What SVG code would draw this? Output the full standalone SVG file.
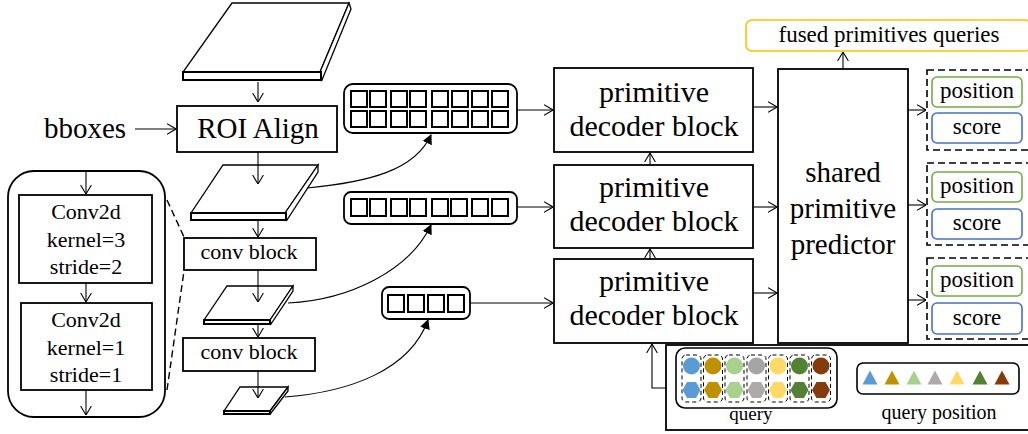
<svg xmlns="http://www.w3.org/2000/svg" width="1028" height="434" viewBox="0 0 1028 434" font-family="'Liberation Serif', 'Times New Roman', serif">
<defs>
<marker id="open" viewBox="0 0 10 12" markerWidth="9" markerHeight="12" refX="10" refY="6" orient="auto" markerUnits="userSpaceOnUse">
<path d="M0,0 L10,6 L0,12" fill="none" stroke="#000" stroke-width="1.2"/>
</marker>
<marker id="fill" viewBox="0 0 10 10" markerWidth="10" markerHeight="11" refX="9" refY="5" orient="auto" markerUnits="userSpaceOnUse">
<path d="M0,0 L10,5 L0,10 Z" fill="#000"/>
</marker>
<polygon id="hex" points="-9,0 -4.5,-8 4.5,-8 9,0 4.5,8 -4.5,8"/>
<polygon id="tri" points="-7.5,7 0,-7 7.5,7"/>
</defs>
<style>
text{font-family:'Liberation Serif','Times New Roman',serif;fill:#000;text-anchor:middle}
.box{fill:#fff;stroke:#000;stroke-width:1.8}
.slab{fill:#fff;stroke:#000;stroke-width:1.3;stroke-linejoin:miter}
.front{fill:#fff;stroke:#000;stroke-width:2}
.cell{fill:#fff;stroke:#000;stroke-width:2}
.tok{fill:#fff;stroke:#000;stroke-width:1.8}
.arr{fill:none;stroke:#000;stroke-width:1.1;marker-end:url(#open)}
.curve{fill:none;stroke:#000;stroke-width:1.1;marker-end:url(#fill)}
.dash{fill:none;stroke:#000;stroke-width:1.6;stroke-dasharray:7,4}
.pos{fill:#fff;stroke:#70AD47;stroke-width:1.6}
.score{fill:#fff;stroke:#4472C4;stroke-width:1.6}
.col{fill:none;stroke:#000;stroke-width:1;stroke-dasharray:4,3}
</style>

<!-- feature slabs -->
<g id="slab1">
<polygon class="slab" points="232,3 349,3 320,72 183,72"/>
<polygon class="slab" points="320,72 349,3 351,9 322,80"/>
<rect class="front" x="183" y="72" width="138" height="8"/>
</g>
<g id="slab2">
<polygon class="slab" points="223,165 318,165 285,213 191,213"/>
<polygon class="slab" points="285,213 318,165 318,172 287,220"/>
<rect class="front" x="191" y="213" width="95" height="7"/>
</g>
<g id="slab3">
<polygon class="slab" points="227,286 293,286 270,320 204,320"/>
<polygon class="slab" points="270,320 293,286 293,291 271,324"/>
<rect class="front" x="204" y="320" width="66" height="4"/>
</g>
<g id="slab4">
<polygon class="slab" points="240,387 288,387 270,411 224,411"/>
<polygon class="slab" points="270,411 288,387 288,391 271,413"/>
<rect class="front" x="224" y="411" width="46" height="3"/>
</g>

<g id="bboxes"><text x="85" y="138" font-size="29">bboxes</text></g>
<g id="roi">
<rect class="box" x="177" y="106" width="160" height="46"/>
<text x="258" y="138" font-size="29">ROI Align</text>
</g>
<g id="conv1">
<rect class="box" x="184" y="238" width="132" height="32"/>
<text x="249" y="259" font-size="22">conv block</text>
</g>
<g id="conv2">
<rect class="box" x="183" y="338" width="132" height="33"/>
<text x="249" y="359" font-size="22">conv block</text>
</g>

<!-- conv block detail panel -->
<g id="panel">
<rect x="8" y="171" width="157" height="246" rx="26" fill="none" stroke="#000" stroke-width="1.8"/>
<rect class="box" x="19" y="195" width="133" height="88"/>
<text x="86" y="219" font-size="22">Conv2d</text>
<text x="86" y="247" font-size="22">kernel=3</text>
<text x="86" y="274" font-size="22">stride=2</text>
<rect class="box" x="21" y="303" width="131" height="87"/>
<text x="86" y="327" font-size="22">Conv2d</text>
<text x="86" y="355" font-size="22">kernel=1</text>
<text x="86" y="382" font-size="22">stride=1</text>
</g>

<!-- token groups -->
<g id="tokens1">
<rect class="tok" x="344" y="84" width="173" height="49" rx="9"/>
<g class="cell">
<rect x="351" y="91" width="16" height="16"/><rect x="370" y="91" width="16" height="16"/><rect x="391" y="91" width="16" height="16"/><rect x="410" y="91" width="16" height="16"/>
<rect x="432" y="91" width="16" height="16"/><rect x="452" y="91" width="16" height="16"/><rect x="472" y="91" width="16" height="16"/><rect x="492" y="91" width="16" height="16"/>
<rect x="351" y="111" width="16" height="16"/><rect x="370" y="111" width="16" height="16"/><rect x="391" y="111" width="16" height="16"/><rect x="410" y="111" width="16" height="16"/>
<rect x="432" y="111" width="16" height="16"/><rect x="452" y="111" width="16" height="16"/><rect x="472" y="111" width="16" height="16"/><rect x="492" y="111" width="16" height="16"/>
</g>
</g>
<g id="tokens2">
<rect class="tok" x="344" y="192" width="173" height="32" rx="7"/>
<g class="cell">
<rect x="351" y="199" width="16" height="17"/><rect x="370" y="199" width="16" height="17"/><rect x="391" y="199" width="16" height="17"/><rect x="410" y="199" width="16" height="17"/>
<rect x="432" y="199" width="16" height="17"/><rect x="451" y="199" width="16" height="17"/><rect x="472" y="199" width="16" height="17"/><rect x="492" y="199" width="16" height="17"/>
</g>
</g>
<g id="tokens3">
<rect class="tok" x="382" y="287" width="88" height="32" rx="7"/>
<g class="cell">
<rect x="388" y="295" width="16" height="17"/><rect x="408" y="295" width="16" height="17"/><rect x="428" y="295" width="16" height="17"/><rect x="448" y="295" width="16" height="17"/>
</g>
</g>

<!-- decoder blocks -->
<g id="dec1">
<rect class="box" x="554" y="68" width="199" height="84"/>
<text x="654" y="102" font-size="30">primitive</text>
<text x="654" y="136" font-size="30">decoder block</text>
</g>
<g id="dec2">
<rect class="box" x="554" y="165" width="199" height="83"/>
<text x="654" y="197" font-size="30">primitive</text>
<text x="654" y="231" font-size="30">decoder block</text>
</g>
<g id="dec3">
<rect class="box" x="554" y="259" width="199" height="84"/>
<text x="654" y="291" font-size="30">primitive</text>
<text x="654" y="325" font-size="30">decoder block</text>
</g>

<g id="predictor">
<rect class="box" x="778" y="69" width="130" height="274"/>
<text x="843" y="182" font-size="29">shared</text>
<text x="843" y="218" font-size="29">primitive</text>
<text x="843" y="254" font-size="29">predictor</text>
</g>

<g id="fused">
<rect x="746" y="20" width="285" height="31" rx="6" fill="#fff" stroke="#FFC000" stroke-width="1.6"/>
<text x="889" y="42" font-size="23">fused primitives queries</text>
</g>

<!-- outputs -->
<g id="out1">
<rect class="dash" x="927" y="70" width="104" height="80"/>
<rect class="pos" x="932" y="77" width="90" height="30" rx="5"/>
<text x="977" y="98" font-size="23">position</text>
<rect class="score" x="932" y="113" width="90" height="30" rx="5"/>
<text x="977" y="134" font-size="23">score</text>
</g>
<g id="out2">
<rect class="dash" x="927" y="163" width="104" height="82"/>
<rect class="pos" x="932" y="172" width="90" height="30" rx="5"/>
<text x="977" y="193" font-size="23">position</text>
<rect class="score" x="932" y="209" width="90" height="30" rx="5"/>
<text x="977" y="230" font-size="23">score</text>
</g>
<g id="out3">
<rect class="dash" x="927" y="258" width="104" height="81"/>
<rect class="pos" x="932" y="266" width="90" height="30" rx="5"/>
<text x="977" y="287" font-size="23">position</text>
<rect class="score" x="932" y="303" width="90" height="31" rx="5"/>
<text x="977" y="325" font-size="23">score</text>
</g>

<!-- legend -->
<g id="legend">
<rect x="666" y="345" width="370" height="85" fill="#fff" stroke="#000" stroke-width="1.8"/>
<rect x="676" y="348" width="161" height="60" rx="9" fill="none" stroke="#000" stroke-width="1.6"/>
<g class="col">
<rect x="682" y="355" width="19" height="47" rx="4"/><rect x="703.5" y="355" width="19" height="47" rx="4"/><rect x="725" y="355" width="19" height="47" rx="4"/><rect x="747" y="355" width="19" height="47" rx="4"/>
<rect x="768.5" y="355" width="19" height="47" rx="4"/><rect x="790" y="355" width="19" height="47" rx="4"/><rect x="811.5" y="355" width="19" height="47" rx="4"/>
</g>
<circle cx="691.5" cy="366" r="8.5" fill="#5B9BD5"/><circle cx="713" cy="366" r="8.5" fill="#BF9000"/><circle cx="734.5" cy="366" r="8.5" fill="#A9D18E"/><circle cx="756.5" cy="366" r="8.5" fill="#A5A5A5"/>
<circle cx="778" cy="366" r="8.5" fill="#FFD966"/><circle cx="799.5" cy="366" r="8.5" fill="#548235"/><circle cx="821" cy="366" r="8.5" fill="#843C0C"/>
<use href="#hex" x="691.5" y="390" fill="#5B9BD5"/><use href="#hex" x="713" y="390" fill="#BF9000"/><use href="#hex" x="734.5" y="390" fill="#A9D18E"/><use href="#hex" x="756.5" y="390" fill="#AEAAAA"/>
<use href="#hex" x="778" y="390" fill="#FFD966"/><use href="#hex" x="799.5" y="390" fill="#548235"/><use href="#hex" x="821" y="390" fill="#843C0C"/>
<text x="751" y="420" font-size="19">query</text>
<rect x="857" y="363" width="162" height="31" rx="6" fill="none" stroke="#000" stroke-width="1.6"/>
<use href="#tri" x="870" y="377.5" fill="#5B9BD5"/><use href="#tri" x="892" y="377.5" fill="#BF9000"/><use href="#tri" x="914" y="377.5" fill="#A9D18E"/><use href="#tri" x="935" y="377.5" fill="#AEAAAA"/>
<use href="#tri" x="957" y="377.5" fill="#FFD966"/><use href="#tri" x="980" y="377.5" fill="#548235"/><use href="#tri" x="1002" y="377.5" fill="#843C0C"/>
<text x="939" y="419" font-size="20">query position</text>
</g>

<!-- connectors -->
<g id="connectors">
<path class="arr" d="M258,82 V102"/>
<path class="arr" d="M135,129 H176"/>
<path class="arr" d="M258,152 V184"/>
<path class="arr" d="M258,220 V237"/>
<path class="arr" d="M258,270 V302"/>
<path class="arr" d="M258,324 V337"/>
<path class="arr" d="M258,371 V398"/>
<path class="arr" d="M86,171 V194"/>
<path class="arr" d="M86,283 V302"/>
<path class="arr" d="M86,390 V415"/>
<path class="dash" style="stroke-width:1.4" d="M167,200 L184,237"/>
<path class="dash" style="stroke-width:1.4" d="M167,390 L184,271"/>
<path class="curve" d="M307,188 C370,182 415,170 431,135"/>
<path class="curve" d="M288,303 C350,300 410,270 431,225"/>
<path class="curve" d="M285,397 C350,392 410,370 428,320"/>
<path class="arr" d="M517,110 H553"/>
<path class="arr" d="M517,207 H553"/>
<path class="arr" d="M470,303 H553"/>
<path class="arr" d="M650,165 V153"/>
<path class="arr" d="M650,259 V249"/>
<path class="arr" d="M666,388 H652 V344"/>
<path class="arr" d="M753,107 H777"/>
<path class="arr" d="M753,207 H777"/>
<path class="arr" d="M753,293 H777"/>
<path class="arr" d="M843,69 V52"/>
<path class="arr" d="M908,110 H926"/>
<path class="arr" d="M908,205 H926"/>
<path class="arr" d="M908,300 H926"/>
</g>
</svg>
